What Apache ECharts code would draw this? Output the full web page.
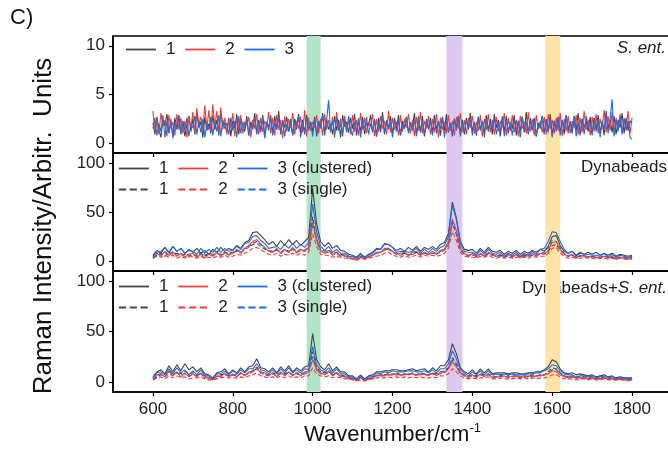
<!DOCTYPE html>
<html>
<head>
<meta charset="utf-8">
<script src="https://cdn.jsdelivr.net/npm/echarts@6/dist/echarts.min.js"></script>
<style>
html,body{margin:0;padding:0;background:#fff;}
#chart{width:668px;height:450px;}
</style>
</head>
<body>
<div id="chart"></div>
<script>
// Wavenumber sampling positions (cm-1)
const wavenumber = Array.from({length: 121}, (_, i) => 600 + i * 10);     // lower panels, every 10
const wavenumberFine = Array.from({length: 241}, (_, i) => 600 + i * 5);  // top panel, every 5
const xTicks = [600, 800, 1000, 1200, 1400, 1600, 1800];
const yTicksTop = [0, 5, 10];
const yTicksLower = [0, 50, 100];
const bands = [[985, 1020], [1335, 1375], [1583, 1620]];

// Panel 1: S. ent. (every 5 cm-1)
const sEnt1 = [2.1,0.9,2.7,1.4,0.6,2.4,1.8,3.0,1.1,2.2, 0.8,2.6,1.5,2.9,1.0,2.3,0.7,1.9,2.8,1.2, 2.5,0.9,3.1,1.6,2.2,0.6,2.7,1.3,2.0,1.0, 2.9,1.4,2.4,0.8,3.2,1.7,2.1,1.1,2.6,0.7, 2.3,1.5,3.0,0.9,2.5,1.8,1.2,2.8,0.8,2.2, 1.6,3.1,1.0,2.4,1.3,2.9,0.7,2.1,1.7,2.6, 1.0,2.8,1.4,3.3,0.9,2.3,1.6,2.7,1.2,2.0, 0.8,2.5,1.8,3.0,1.1,2.4,0.9,2.9,1.5,2.2, 1.2,2.7,0.7,2.3,1.6,3.1,1.0,2.5,1.4,2.0, 0.9,2.8,1.3,2.4,0.6,2.9,1.7,2.2,1.1,2.6, 1.5,3.0,0.8,2.3,1.2,2.7,0.9,2.1,1.8,2.9, 1.1,2.4,0.7,2.6,1.4,3.2,1.0,2.2,1.6,2.8, 0.9,2.5,1.3,2.9,0.8,2.3,1.5,2.7,1.1,2.0, 1.7,3.1,0.9,2.4,1.2,2.8,0.7,2.2,1.6,2.6, 1.0,2.9,1.4,2.3,0.8,2.7,1.3,3.0,1.1,2.1, 0.7,2.5,1.6,2.8,1.0,2.4,0.9,2.6,1.5,3.1, 1.2,2.2,0.8,2.7,1.4,2.3,1.0,2.9,1.3,2.5, 0.9,3.0,1.6,2.4,0.7,2.6,1.2,2.8,1.0,2.2, 1.5,2.9,0.8,2.3,1.3,2.7,1.1,3.2,0.9,2.4, 1.4,2.6,0.7,2.1,1.7,2.8,1.0,2.5,1.2,3.0, 0.8,2.3,1.5,2.7,1.1,2.4,0.9,2.9,1.4,2.2, 1.0,2.8,1.3,3.1,0.8,2.5,1.6,2.3,1.2,2.7, 0.9,2.6,1.4,2.9,1.1,2.2,0.8,3.3,1.5,2.5, 1.1,2.8,0.9,2.4,1.6,3.1,1.0,2.6,1.3,2.3, 2.0];
const sEnt2 = [3.3,1.2,2.5,0.9,3.1,1.8,2.4,0.7,2.9,1.5, 2.2,0.8,3.0,1.4,2.6,1.0,2.3,0.6,2.8,1.6, 3.2,1.1,3.6,1.9,2.7,1.3,3.9,1.5,3.4,1.2, 4.0,1.7,3.3,1.0,3.7,1.4,2.6,0.9,2.4,1.6, 3.1,0.7,2.5,1.3,2.9,1.0,2.2,1.8,2.7,0.6, 2.4,1.5,3.0,0.9,2.6,1.2,2.3,1.7,3.2,1.0, 2.6,0.8,2.9,1.4,2.4,0.5,2.8,1.2,2.5,1.6, 3.1,0.9,2.3,1.5,2.7,1.1,3.4,0.7,2.6,1.3, 2.2,1.6,2.9,1.0,2.5,0.8,3.0,1.4,2.4,1.1, 2.7,0.6,3.2,1.3,2.5,1.0,2.8,1.5,2.3,0.9, 2.9,1.2,2.4,0.8,3.1,1.4,2.6,1.0,2.2,1.7, 3.0,0.7,2.5,1.2,2.8,1.5,2.3,0.9,3.3,1.1, 2.6,1.4,2.2,0.8,2.9,1.2,2.5,1.6,3.0,1.0, 2.4,0.7,2.7,1.3,3.2,1.0,2.3,1.5,2.8,0.9, 2.5,1.1,3.0,0.6,2.6,1.4,2.2,1.0,2.9,1.3, 2.3,0.8,2.7,1.5,3.1,1.1,2.4,0.9,2.6,1.6, 2.8,1.0,2.2,1.3,2.9,0.7,2.5,1.4,3.0,1.1, 2.4,0.9,2.7,1.2,2.3,1.6,3.1,0.8,2.6,1.3, 2.9,1.1,2.4,0.7,2.8,1.5,2.2,1.0,3.2,1.2, 2.5,0.8,2.9,1.4,2.3,1.1,2.7,0.9,3.0,1.5, 2.4,1.0,2.6,1.3,3.1,0.7,2.5,1.2,2.8,1.0, 2.3,1.6,2.9,0.9,2.6,1.1,3.3,1.4,2.4,0.8, 2.7,1.2,3.0,1.0,2.5,1.5,3.4,1.1,2.8,1.3, 3.2,0.9,2.6,1.4,3.0,1.1,2.4,1.6,3.3,1.0, 2.6];
const sEnt3 = [1.5,2.6,0.8,2.0,1.2,2.9,0.6,2.3,1.0,2.5, 0.5,2.1,1.4,2.7,0.9,2.2,1.3,2.6,0.7,1.9, 1.6,2.8,0.9,2.3,1.1,2.5,0.6,2.0,1.4,2.7, 0.8,2.2,1.2,2.9,0.7,2.4,1.5,2.1,0.9,2.6, 1.3,2.3,0.6,2.8,1.0,2.2,1.6,2.5,0.8,2.0, 1.4,2.7,0.9,2.3,1.1,2.6,0.5,2.2,1.3,2.9, 0.8,2.1,1.5,2.6,1.0,2.4,0.7,2.0,1.2,2.5, 0.9,2.3,1.4,2.8,0.6,2.2,1.1,2.7,1.3,2.1, 0.7,2.5,1.0,2.2,1.5,2.9,0.8,2.4,4.4,1.2, 2.3,0.9,2.6,1.3,2.0,0.7,2.5,1.1,2.8,1.4, 0.8,2.2,1.2,2.6,0.6,2.3,1.5,2.7,0.9,2.0, 1.3,2.5,0.7,2.1,1.1,2.8,0.9,2.4,1.4,2.2, 0.6,2.6,1.2,2.3,0.8,2.0,1.5,2.7,1.0,2.2, 1.3,2.4,0.7,2.8,1.1,2.1,0.9,2.5,1.4,2.3, 0.8,2.6,1.0,2.2,1.5,2.7,0.6,2.3,1.2,2.0, 0.9,2.5,1.3,2.8,0.7,2.1,1.1,2.4,1.4,2.6, 0.8,2.2,1.0,2.7,1.3,2.3,0.6,2.5,1.2,2.0, 1.5,2.6,0.9,2.2,1.1,2.8,0.7,2.4,1.3,2.1, 0.8,2.5,1.2,2.3,0.6,2.7,1.4,2.2,1.0,2.6, 1.3,2.4,0.7,2.0,1.5,2.8,0.9,2.3,1.1,2.5, 0.6,2.2,1.2,2.6,0.8,2.4,1.4,2.9,1.0,2.3, 1.3,2.7,0.7,2.1,1.1,2.5,0.9,2.8,1.5,2.2, 0.8,2.6,1.2,2.4,0.6,2.3,1.4,2.9,1.0,2.5, 4.5,0.7,2.4,1.2,2.8,0.9,2.6,1.3,2.3,0.6, 0.4];

// Panel 2: Dynabeads (clustered = solid, single = dashed), every 10 cm-1
const dyn1 = [6,11,8,14,9,15,10,13,8,12, 9,13,8,11,7,12,9,14,10,13, 11,16,13,19,21,29,30,26,22,17, 20,15,21,16,22,17,21,16,20,24, 74,38,20,15,19,13,16,11,10,7, 6,4,8,4,7,9,13,12,18,17, 14,11,13,10,14,11,15,10,14,12, 15,12,17,19,28,60,44,20,12,11, 12,8,13,9,14,10,9,11,7,10, 8,11,7,10,8,11,9,12,10,15, 25,26,16,10,8,10,6,9,7,9, 7,9,6,8,6,8,5,7,6,5, 6];
const dyn2 = [4,8,5,10,6,9,5,8,4,7, 8,4,7,3,7,5,9,5,9,6, 8,12,8,13,16,20,22,17,14,10, 9,13,8,12,9,14,8,12,10,14, 40,22,11,8,11,6,9,5,6,3, 3,1,4,2,5,6,9,9,13,13, 10,7,8,9,6,9,10,6,9,7, 10,7,11,12,20,43,31,13,8,5, 8,4,8,5,9,6,5,7,4,7, 4,7,4,7,5,8,5,8,7,11, 19,20,12,7,5,7,3,6,5,5, 4,4,3,5,3,5,2,4,3,2, 3];
const dyn3 = [5,9,10,14,8,15,10,13,8,11, 10,7,13,8,12,9,14,9,13,10, 11,15,12,18,19,25,26,21,18,13, 14,15,12,17,13,18,13,17,14,19, 58,30,15,11,15,9,12,8,8,5, 5,3,7,4,6,8,12,12,17,17, 14,9,10,10,9,10,13,8,12,9, 13,10,14,16,25,57,42,17,10,9, 9,6,11,7,12,8,7,9,5,8, 6,9,5,8,6,10,7,12,13,20, 30,29,20,12,8,10,5,8,7,7, 6,6,5,8,4,7,4,6,5,4, 5];
const dynS1 = [4,6,8,5,9,7,8,6,7,5, 7,6,8,5,7,6,8,7,9,8, 9,11,10,13,15,18,20,17,13,11, 10,12,9,12,10,13,10,12,11,14, 45,22,12,10,11,8,9,7,6,5, 4,3,5,3,4,6,8,9,11,13, 10,8,7,8,6,8,9,7,8,7, 8,8,10,12,18,40,28,12,8,6, 7,5,7,6,8,7,5,6,5,6, 5,6,4,6,5,6,6,7,7,10, 16,17,11,7,5,6,4,5,6,4, 5,4,4,5,4,4,3,4,4,3, 4];
const dynS2 = [3,5,4,6,4,6,3,5,3,4, 5,3,5,3,4,3,5,4,6,4, 5,7,6,8,10,13,14,12,9,7, 6,8,5,7,6,8,6,8,6,9, 28,15,7,6,6,4,5,4,3,3, 2,1,3,2,3,4,5,6,8,9, 6,5,4,6,4,5,6,4,6,5, 6,5,6,8,13,30,21,9,5,4, 4,3,5,4,6,4,3,4,3,4, 3,4,3,4,3,5,4,5,5,8, 13,14,8,5,3,4,3,3,4,3, 3,2,3,3,2,3,2,3,2,2, 2];
const dynS3 = [3,6,7,9,6,10,7,8,6,7, 7,5,9,6,8,7,9,6,8,7, 8,10,9,12,14,17,18,15,12,10, 9,11,8,11,9,12,9,11,10,12, 38,20,10,8,9,7,7,6,5,4, 3,3,4,3,4,6,8,9,11,12, 9,7,6,8,6,7,8,6,8,7, 8,7,9,11,17,38,27,11,7,5, 6,5,7,5,7,6,5,5,4,5, 4,6,4,5,5,6,6,8,9,14, 21,20,14,8,6,6,4,5,6,4, 5,4,4,5,4,4,3,4,3,3, 4];

// Panel 3: Dynabeads + S. ent., every 10 cm-1
const mix1 = [5,10,12,8,16,10,17,11,18,12, 15,10,14,8,7,4,9,10,13,8, 12,9,14,10,15,16,23,14,13,10, 14,9,15,11,16,10,14,11,15,16, 48,22,15,12,18,11,15,10,10,6, 6,3,7,3,6,7,10,10,11,11, 12,12,11,11,12,13,11,12,13,10, 14,11,16,16,22,38,28,14,10,8, 12,8,13,9,13,8,9,9,9,8, 9,9,8,8,9,9,10,10,12,15, 22,20,13,9,8,9,7,8,7,6, 7,5,6,7,5,6,4,5,4,4, 4];
const mix2 = [3,7,8,5,11,6,10,5,9,5, 8,5,9,4,4,2,6,5,9,5, 8,5,9,6,10,10,14,9,9,6, 9,5,10,6,10,6,9,6,10,10, 22,12,9,7,11,6,9,5,6,3, 4,1,5,1,4,3,7,6,7,7, 8,7,7,7,8,8,7,7,8,6, 9,6,10,9,13,20,15,9,7,4, 7,4,8,5,8,4,5,5,6,4, 6,5,5,5,6,5,6,6,7,8, 11,10,7,5,4,5,4,4,4,3, 4,3,3,4,3,3,2,3,2,2, 2];
const mix3 = [4,9,10,7,13,8,14,9,12,7, 11,7,12,6,6,3,8,8,11,7, 11,8,12,9,13,13,18,12,11,8, 12,8,13,9,14,9,12,9,13,12, 35,17,12,10,14,9,13,8,8,5, 5,2,6,2,5,5,9,8,10,9, 11,10,10,10,11,11,10,10,11,9, 12,9,13,13,18,31,23,12,9,6, 10,7,11,7,11,7,8,7,8,7, 8,7,7,7,8,8,9,9,11,13, 17,16,11,8,7,7,5,6,6,5, 6,4,5,6,4,5,3,4,4,3, 3];
const mixS1 = [3,6,8,5,10,7,10,8,11,8, 9,7,8,6,4,3,5,7,8,6, 7,7,9,7,9,11,15,10,8,7, 9,7,9,8,10,7,9,8,9,10, 30,14,10,9,11,8,9,7,6,5, 3,3,4,2,3,5,6,7,7,8, 7,9,7,8,7,9,7,9,8,7, 9,8,10,11,14,24,18,9,7,6, 7,6,8,7,8,6,5,7,5,6, 5,7,5,6,5,7,6,7,7,10, 14,13,9,6,5,6,4,5,5,4, 5,3,4,5,3,4,3,3,3,3, 3];
const mixS2 = [2,4,5,3,6,4,6,4,5,3, 4,4,5,3,2,2,3,4,5,4, 4,4,5,4,6,7,9,6,5,4, 5,4,6,4,6,4,5,4,6,6, 14,8,6,5,6,4,5,4,3,3, 2,1,2,1,2,3,4,4,4,5, 4,5,4,5,4,5,4,5,4,4, 5,4,6,6,8,13,10,6,4,3, 4,3,4,4,5,3,3,4,3,3, 3,4,3,4,3,4,3,4,4,5, 7,7,5,3,3,3,2,3,3,2, 3,2,2,3,2,2,2,2,2,1, 2];
const mixS3 = [3,5,7,5,8,6,9,7,8,6, 7,6,8,5,4,3,5,6,7,6, 7,6,8,7,8,10,13,9,7,6, 8,6,8,7,9,7,8,7,8,9, 25,12,8,8,9,7,8,6,5,4, 3,2,3,2,3,4,6,6,6,7, 7,8,6,8,7,8,6,8,7,7, 8,7,8,10,13,22,16,8,6,5, 6,5,7,6,7,5,5,6,5,5, 5,6,4,5,5,6,5,7,7,9, 12,12,8,6,5,5,4,4,4,3, 4,3,3,4,3,3,2,3,3,2, 3];

const GRAY = '#444444', RED = '#f03c3c', BLUE = '#1d6de6';
const FONT = 'Liberation Sans, Arial, sans-serif';
const bandColors = ['#b1e4c6', '#ddc9f0', '#fde4a6'];
const labelMap = {
  S1: '1', S2: '2', S3: '3',
  D1: '1', D2: '2', D3: '3 (clustered)', Ds1: '1', Ds2: '2', Ds3: '3 (single)',
  M1: '1', M2: '2', M3: '3 (clustered)', Ms1: '1', Ms2: '2', Ms3: '3 (single)'
};

const chart = echarts.init(document.getElementById('chart'), null, {renderer: 'canvas'});

const grids = [
  {left: 113, right: -4, top: 36, height: 117},
  {left: 113, right: -4, top: 153, height: 118},
  {left: 113, right: -4, top: 271, height: 121}
].map(g => Object.assign({show: true, borderColor: '#000', borderWidth: 1.5, backgroundColor: 'transparent', containLabel: false, outerBoundsMode: 'none'}, g));

function xAxisFor(i) {
  return {
    type: 'value', gridIndex: i, min: 500, max: 1900,
    axisLine: {show: true, onZero: false, lineStyle: {color: '#000', width: 1.5}},
    axisTick: {show: true, inside: false, length: 4, customValues: xTicks, lineStyle: {color: '#000', width: 1.2}},
    axisLabel: {show: i === 2, customValues: xTicks, formatter: v => String(v), fontSize: 17, color: '#222', fontFamily: FONT, margin: 9},
    splitLine: {show: false},
    name: i === 2 ? '{a|Wavenumber/cm}{b|-1}' : '',
    nameLocation: 'middle', nameGap: 30,
    nameTextStyle: {
      rich: {
        a: {fontSize: 22, color: '#111', fontFamily: FONT},
        b: {fontSize: 13, color: '#111', fontFamily: FONT, verticalAlign: 'top', padding: [0, 0, 12, 0]}
      }
    }
  };
}
function yAxisFor(i) {
  const top = i === 0;
  return {
    type: 'value', gridIndex: i,
    min: top ? -1 : -10, max: top ? 11 : 110,
    axisLine: {show: true, onZero: false, lineStyle: {color: '#000', width: 1.5}},
    axisTick: {show: true, inside: false, length: 4, customValues: top ? yTicksTop : yTicksLower, lineStyle: {color: '#000', width: 1.2}},
    axisLabel: {customValues: top ? yTicksTop : yTicksLower, fontSize: 17, color: '#222', fontFamily: FONT, margin: 8},
    splitLine: {show: false}
  };
}

function line(name, vals, xs, color, gi, dashed) {
  return {
    name: name, type: 'line', xAxisIndex: gi, yAxisIndex: gi,
    data: vals.map((v, i) => [xs[i], v]),
    symbol: 'none', showSymbol: false, z: 3, silent: true, animation: false,
    lineStyle: {color: color, width: 1.1, type: dashed ? 'dashed' : 'solid'},
    itemStyle: {color: color}
  };
}
function bandSeries(gi) {
  return {
    type: 'line', xAxisIndex: gi, yAxisIndex: gi, data: [], z: 1, silent: true, animation: false,
    markArea: {
      silent: true, animation: false,
      data: bands.map((b, k) => [{xAxis: b[0], itemStyle: {color: bandColors[k], opacity: 1}}, {xAxis: b[1]}])
    }
  };
}

const series = [
  bandSeries(0), bandSeries(1), bandSeries(2),
  line('S1', sEnt1, wavenumberFine, GRAY, 0), line('S2', sEnt2, wavenumberFine, RED, 0), line('S3', sEnt3, wavenumberFine, BLUE, 0),
  line('Ds1', dynS1, wavenumber, GRAY, 1, true), line('Ds2', dynS2, wavenumber, RED, 1, true), line('Ds3', dynS3, wavenumber, BLUE, 1, true),
  line('D1', dyn1, wavenumber, GRAY, 1), line('D2', dyn2, wavenumber, RED, 1), line('D3', dyn3, wavenumber, BLUE, 1),
  line('Ms1', mixS1, wavenumber, GRAY, 2, true), line('Ms2', mixS2, wavenumber, RED, 2, true), line('Ms3', mixS3, wavenumber, BLUE, 2, true),
  line('M1', mix1, wavenumber, GRAY, 2), line('M2', mix2, wavenumber, RED, 2), line('M3', mix3, wavenumber, BLUE, 2)
];

function legend(data, left, top) {
  return {
    data: data.map(n => ({name: n})), left: left, top: top, orient: 'horizontal',
    itemWidth: 30, itemHeight: 14, itemGap: 9, selectedMode: false,
    formatter: n => labelMap[n],
    itemStyle: {opacity: 0, borderWidth: 0},
    lineStyle: {width: 1.8, color: 'inherit', type: 'inherit', opacity: 1},
    textStyle: {fontSize: 17, color: '#222', fontFamily: FONT, padding: [0, 0, 0, 5]},
    padding: 0
  };
}

const option = {
  animation: false,
  backgroundColor: '#fff',
  grid: grids,
  xAxis: [0, 1, 2].map(xAxisFor),
  yAxis: [0, 1, 2].map(yAxisFor),
  legend: [
    legend(['S1', 'S2', 'S3'], 125, 41),
    legend(['D1', 'D2', 'D3'], 118, 160),
    legend(['Ds1', 'Ds2', 'Ds3'], 118, 181),
    legend(['M1', 'M2', 'M3'], 118, 278),
    legend(['Ms1', 'Ms2', 'Ms3'], 118, 299)
  ],
  series: series,
  graphic: [
    {type: 'text', left: 10, top: 7, style: {text: 'C)', fontSize: 22, fill: '#111', fontFamily: FONT}},
    {type: 'text', x: 44, y: 226, rotation: Math.PI / 2,
      style: {text: 'Raman Intensity/Arbitr.  Units', fontSize: 26, fill: '#111', fontFamily: FONT, align: 'center', verticalAlign: 'middle'}},
    {type: 'text', x: 666, y: 48,
      style: {text: 'S. ent.', fontSize: 17, fontStyle: 'italic', fill: '#222', fontFamily: FONT, align: 'right', verticalAlign: 'middle'}},
    {type: 'text', x: 667, y: 167,
      style: {text: 'Dynabeads', fontSize: 17, fill: '#222', fontFamily: FONT, align: 'right', verticalAlign: 'middle'}},
    {type: 'text', x: 667, y: 288,
      style: {text: '{n|Dynabeads+}{i|S. ent.}', fill: '#222', align: 'right', verticalAlign: 'middle',
        rich: {n: {fontSize: 17, fontFamily: FONT, fill: '#222'}, i: {fontSize: 17, fontFamily: FONT, fontStyle: 'italic', fill: '#222'}}}}
  ]
};
chart.setOption(option);
</script>
</body>
</html>
